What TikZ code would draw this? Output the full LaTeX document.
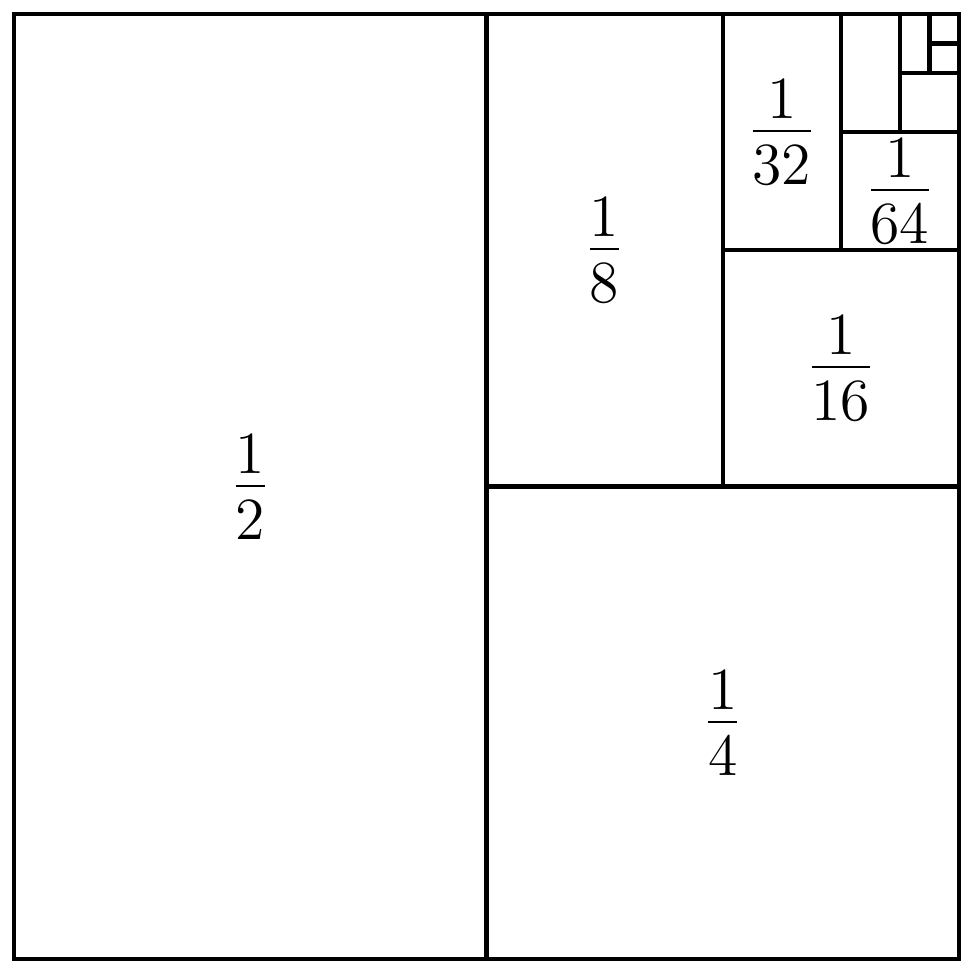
\documentclass[tikz,border=0pt]{standalone}
\newcommand\cellfrac[2]{%
  \setbox0\hbox{#1}\setbox2\hbox{#2}%
  \dimen0=\ifdim\wd0>\wd2 \wd0\else\wd2\fi
  \vbox{\hbox to\dimen0{\hss\box0\hss}\kern2.8pt\hrule height0.45pt\kern3.0pt\hbox to\dimen0{\hss\box2\hss}}}
\begin{document}
\begin{tikzpicture}[x=8cm,y=-8cm,
  cell/.style={draw=black,line width=1.05pt},
  lab/.style={inner sep=0pt,font=\fontsize{14.4}{17}\selectfont}]
\useasboundingbox (-0.01481,-0.01481) rectangle (1.01481,1.01481);
\draw[cell] (0,0) rectangle (0.5,1);
\draw[cell] (0.5,0.5) rectangle (1,1);
\draw[cell] (0.5,0) rectangle (0.75,0.5);
\draw[cell] (0.75,0.25) rectangle (1,0.5);
\draw[cell] (0.75,0) rectangle (0.875,0.25);
\draw[cell] (0.875,0.125) rectangle (1,0.25);
\draw[cell] (0.875,0) rectangle (0.9375,0.125);
\draw[cell] (0.9375,0.0625) rectangle (1,0.125);
\draw[cell] (0.9375,0) rectangle (0.96875,0.0625);
\draw[cell] (0.96875,0.03125) rectangle (1,0.0625);
\draw[cell] (0.96875,0) rectangle (1,0.03125);
\draw[cell] (0,0) rectangle (1,1);
\node[lab] (h) at (0.25,0.5) {\cellfrac{1}{2}};
\node[lab] (q) at (0.75,0.75) {\cellfrac{1}{4}};
\node[lab] (e) at (0.625,0.25) {\cellfrac{1}{8}};
\node[lab] (s) at (0.875,0.375) {\cellfrac{1}{16}};
\node[lab] (t) at (0.8125,0.125) {\cellfrac{1}{32}};
\node[lab] (f) at (0.9375,0.1875) {\cellfrac{1}{64}};
\end{tikzpicture}
\end{document}
